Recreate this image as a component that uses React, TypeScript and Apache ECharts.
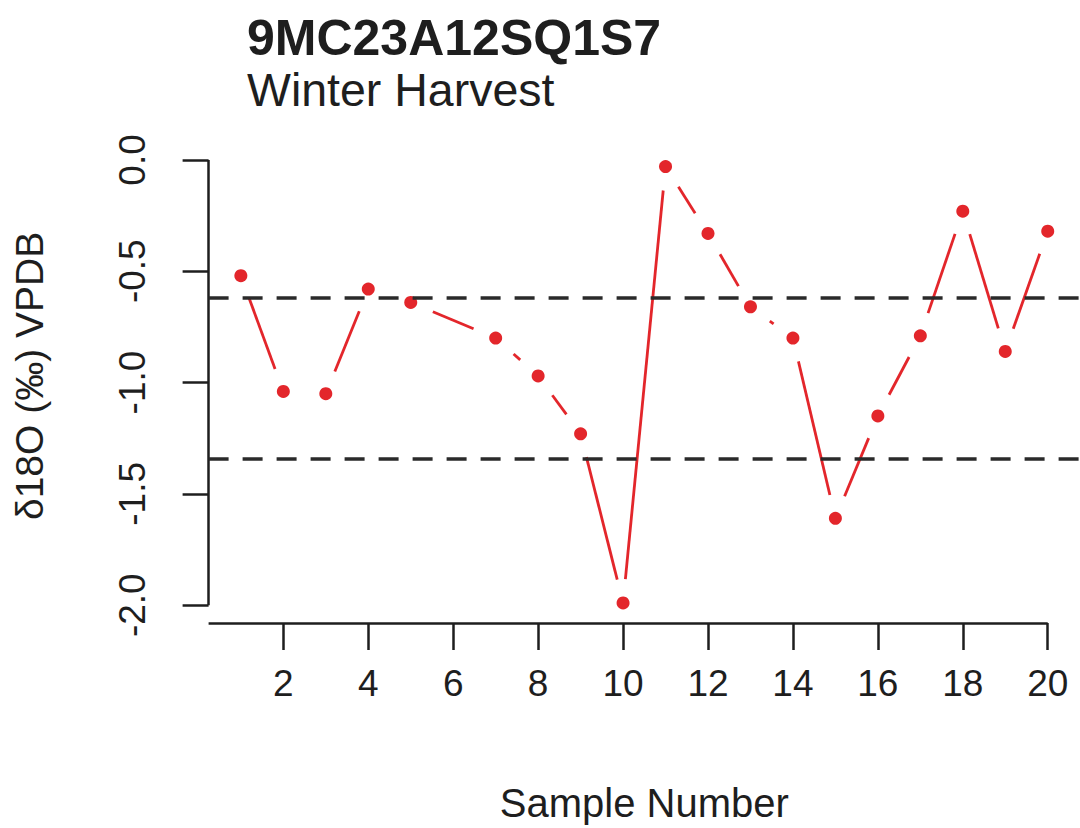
import React, { useEffect, useRef } from "react";
import * as echarts from "echarts";

// ---- data ----
const sampleNumbers = [1, 2, 3, 4, 5, 7, 8, 9, 10, 11, 12, 13, 14, 15, 16, 17, 18, 19, 20];
const d18O = [-0.52, -1.04, -1.05, -0.58, -0.64, -0.8, -0.97, -1.23, -1.99, -0.03, -0.33, -0.66, -0.8, -1.61, -1.15, -0.79, -0.23, -0.86, -0.32];
const referenceLines = [-0.62, -1.34];
const xTicks = [2, 4, 6, 8, 10, 12, 14, 16, 18, 20];
const yTicks = [0, -0.5, -1, -1.5, -2];
const titleText = "9MC23A12SQ1S7";
const subtitleText = "Winter Harvest";
const xName = "Sample Number";
const yName = "δ18O (‰) VPDB";

const RED = "#e3262b";
const INK = "#1e1e1e";
const FONT = "Liberation Sans, Arial, Helvetica, sans-serif";

export default function App() {
  const ref = useRef<HTMLDivElement>(null);

  useEffect(() => {
    if (!ref.current) return;
    const chart = echarts.init(ref.current, undefined, { renderer: "svg" });

    const points = sampleNumbers.map((x, i) => [x, d18O[i]]);
    const segments = sampleNumbers.slice(0, -1).map((x, i) => [x, d18O[i], sampleNumbers[i + 1], d18O[i + 1]]);
    const xMin = 0.24;
    const xMax = 20.76;
    const yMin = -2.08;
    const yMax = 0.05;
    const lastX = xTicks[xTicks.length - 1];
    const gap = 24;

    chart.setOption({
      animation: false,
      backgroundColor: "#ffffff",
      grid: { left: 208.6, top: 148.8, width: 873.7, height: 476.1, containLabel: false },
      xAxis: {
        type: "value",
        min: xMin,
        max: xMax,
        splitLine: { show: false },
        axisLine: { show: false, onZero: false },
        axisTick: {
          show: true,
          customValues: xTicks,
          length: 27,
          lineStyle: { color: INK, width: 2.5 },
        },
        axisLabel: {
          customValues: xTicks,
          margin: 42,
          fontSize: 37,
          fontFamily: FONT,
          color: INK,
          showMinLabel: true,
          showMaxLabel: true,
        },
        name: xName,
        nameLocation: "middle",
        nameGap: 160,
        nameTextStyle: { fontSize: 40, fontFamily: FONT, color: INK },
      },
      yAxis: {
        type: "value",
        min: yMin,
        max: yMax,
        splitLine: { show: false },
        axisLine: { show: false, onZero: false },
        axisTick: {
          show: true,
          customValues: yTicks,
          length: 26,
          lineStyle: { color: INK, width: 2.5 },
        },
        axisLabel: {
          customValues: yTicks,
          rotate: 90,
          margin: 58,
          fontSize: 37,
          fontFamily: FONT,
          color: INK,
          formatter: (v: number) => v.toFixed(1),
        },
        name: yName,
        nameLocation: "middle",
        nameGap: 160,
        nameRotate: 90,
        nameTextStyle: { fontSize: 39, fontFamily: FONT, color: INK, padding: [0, 0, 0, 20] },
      },
      graphic: [
        {
          type: "text",
          left: 247,
          top: 13,
          style: {
            text: titleText,
            fontSize: 50,
            fontWeight: "bold",
            fontFamily: FONT,
            fill: INK,
          },
        },
        {
          type: "text",
          left: 247,
          top: 66,
          style: {
            text: subtitleText,
            fontSize: 46.5,
            fontFamily: FONT,
            fill: INK,
          },
        },
      ],
      series: [
        {
          name: "axes",
          type: "line",
          data: [],
          silent: true,
          markLine: {
            silent: true,
            symbol: "none",
            label: { show: false },
            lineStyle: { color: INK, width: 2.5, type: "solid" },
            data: [
              [{ coord: [xMin, yTicks[0]] }, { coord: [xMin, yTicks[yTicks.length - 1]] }],
              [{ coord: [xMin, yMin] }, { coord: [lastX, yMin] }],
            ],
          },
        },
        {
          name: "reference",
          type: "line",
          data: [],
          silent: true,
          markLine: {
            silent: true,
            symbol: "none",
            label: { show: false },
            lineStyle: { color: "#2a2a2a", width: 3.5, type: [20, 14] },
            data: referenceLines.map((v) => ({ yAxis: v })),
          },
        },
        {
          name: "segments",
          type: "custom",
          data: segments,
          encode: { x: [0, 2], y: [1, 3] },
          silent: true,
          renderItem: (params: any, api: any) => {
            const a = api.coord([api.value(0), api.value(1)]);
            const b = api.coord([api.value(2), api.value(3)]);
            const dx = b[0] - a[0];
            const dy = b[1] - a[1];
            const len = Math.hypot(dx, dy);
            if (len <= 2 * gap + 0.5) return null;
            const ux = dx / len;
            const uy = dy / len;
            return {
              type: "line",
              shape: {
                x1: a[0] + ux * gap,
                y1: a[1] + uy * gap,
                x2: b[0] - ux * gap,
                y2: b[1] - uy * gap,
              },
              style: { stroke: RED, lineWidth: 2.8 },
            };
          },
        },
        {
          name: "δ18O",
          type: "scatter",
          data: points,
          symbol: "circle",
          symbolSize: 13,
          itemStyle: { color: RED, opacity: 1 },
          silent: true,
        },
      ],
    });

    return () => chart.dispose();
  }, []);

  return (
    <div
      ref={ref}
      style={{ position: "fixed", left: 0, top: 0, width: 1080, height: 828, background: "#fff" }}
    />
  );
}
